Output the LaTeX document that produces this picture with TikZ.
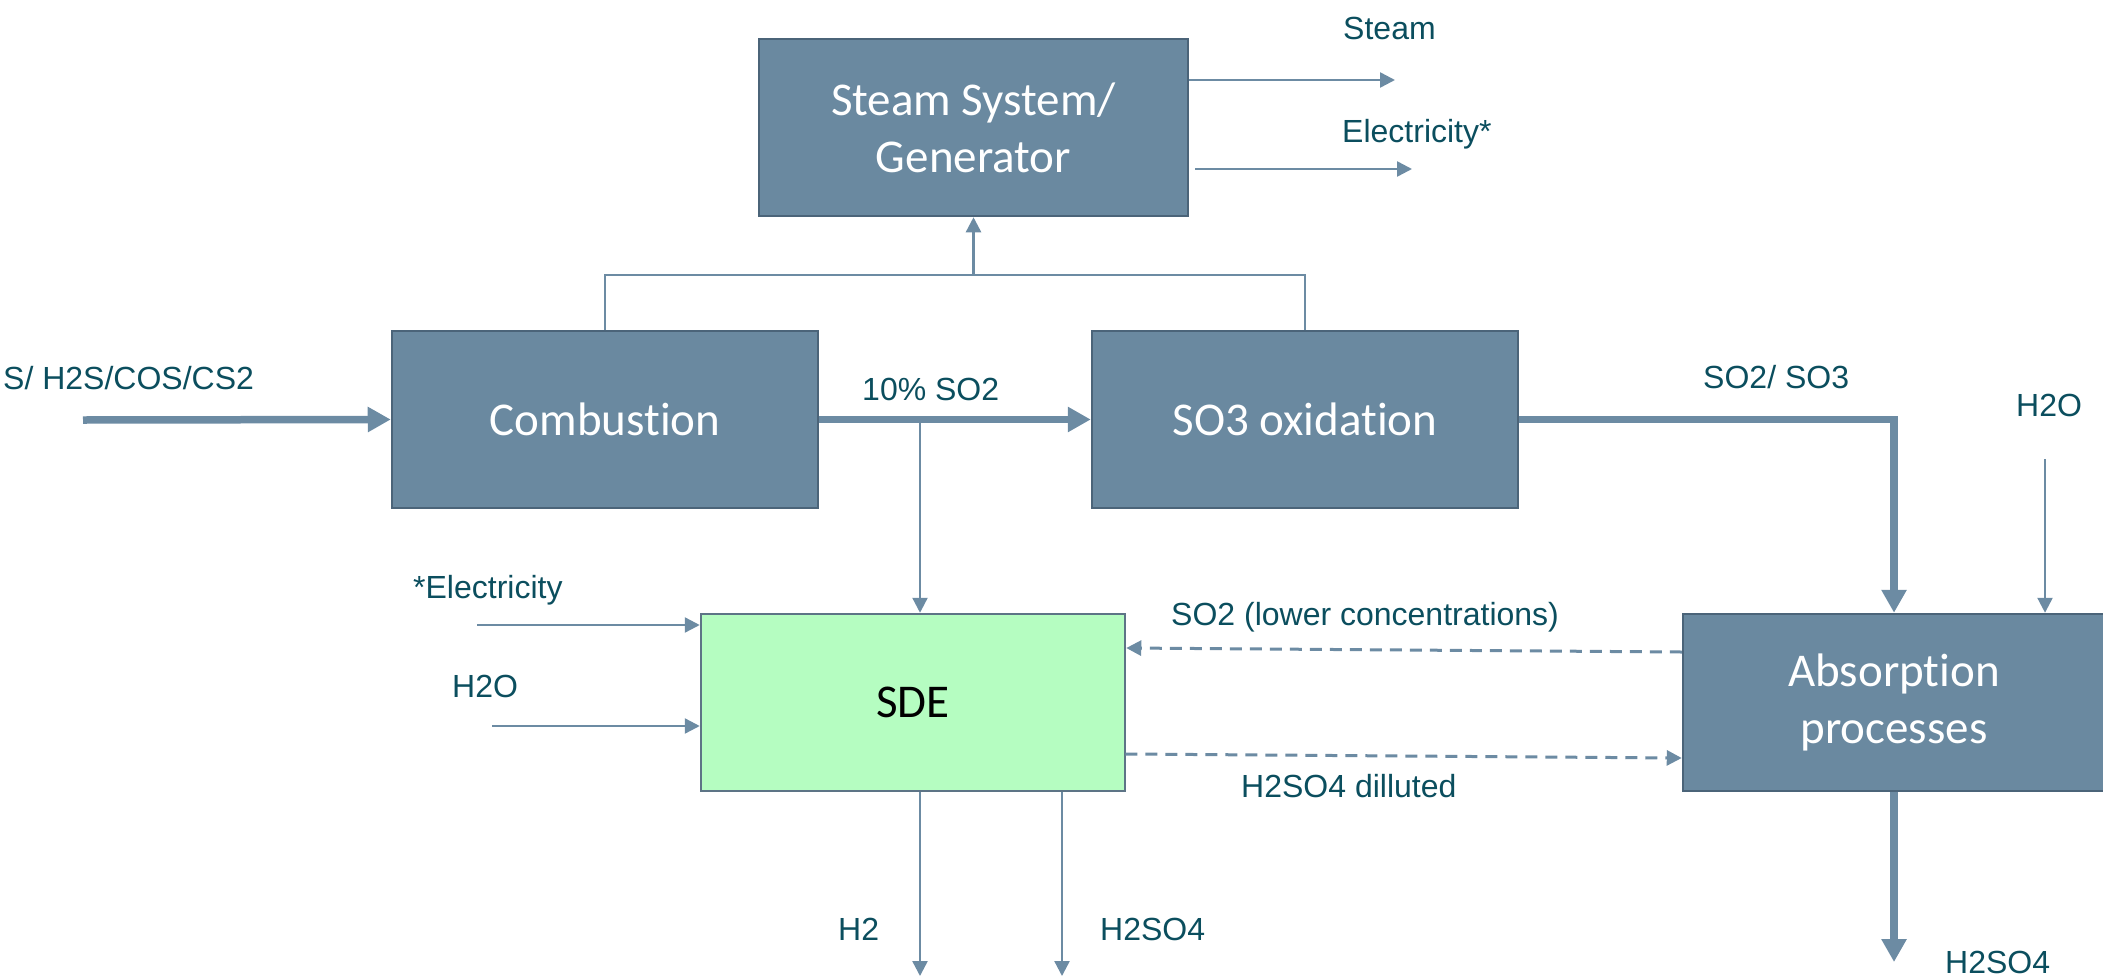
\documentclass[tikz,border=0pt]{standalone}
\usepackage{fontspec}
\setmainfont{Liberation Sans}
\newfontfamily\boxfont[Ligatures={NoCommon}]{Carlito}
\usetikzlibrary{arrows.meta}
\definecolor{boxfill}{HTML}{6A89A0}
\definecolor{boxline}{HTML}{4B6479}
\definecolor{flow}{HTML}{6C8BA3}
\definecolor{sdefill}{HTML}{B5FDC1}
\definecolor{labtext}{HTML}{0B4E5E}
\tikzset{
  procbox/.style={draw=boxline, line width=2.5pt, fill=boxfill, text=white,
    minimum height=177pt, align=center, inner sep=0pt,
    font=\boxfont\fontsize{47}{57}\selectfont},
  sdebox/.style={procbox, fill=sdefill, draw=boxline!90, text=black},
  thinflow/.style={draw=flow, line width=2.4pt, -{Triangle[length=15pt,width=15pt]}},
  thickflow/.style={draw=flow, line width=7.5pt, -{Triangle[length=23pt,width=24pt]}},
  plainflow/.style={draw=flow, line width=2.4pt},
  dashflow/.style={draw=flow, line width=3pt, dash pattern=on 12pt off 8pt,
    -{Triangle[length=15pt,width=15pt]}},
  lab/.style={text=labtext, inner sep=0pt, font=\fontsize{32}{37}\selectfont, anchor=base west}
}
\begin{document}
\begin{tikzpicture}[x=1pt,y=-1pt]
\useasboundingbox (0,0) rectangle (2103,977);

% boxes
\node[procbox, minimum width=429pt] (steam) at (973.5,127.5) {Steam System/\\Generator};
\node[procbox, minimum width=426pt] (comb) at (605,419.5) {Combustion};
\node[procbox, minimum width=426pt] (so3) at (1305,419.5) {SO3 oxidation};
\node[sdebox, minimum width=424pt] (sde) at (913,702.5) {SDE};
\node[procbox, minimum width=422pt] (abs) at (1894,702.5) {Absorption\\processes};

% coordinates
\coordinate (in1) at (83,420);
\coordinate (b1) at (920,420);
\coordinate (j) at (973.5,275);
\coordinate (steamEnd) at (1395,80);
\coordinate (elecStart) at (1195,169);
\coordinate (elecEnd) at (1412,169);
\coordinate (h2oA) at (2045,459);
\coordinate (elecS) at (477,625);
\coordinate (h2oS) at (492,726);
\coordinate (h2End) at (920,976);
\coordinate (h2so4End) at (1062,976);
\coordinate (absEnd) at (1894,962);

% connectors
\draw[thickflow] (in1) -- (comb.west);
\draw[thickflow] (comb.east) -- (so3.west);
\draw[thinflow] (b1) -- (b1 |- sde.north);
\draw[plainflow] (comb.north) |- (j) -| (so3.north);
\draw[thinflow] (j) -- (steam.south);
\draw[thinflow] (steam.east |- steamEnd) -- (steamEnd);
\draw[thinflow] (elecStart) -- (elecEnd);
\draw[thickflow] (so3.east) -| (abs.north);
\draw[thinflow] (h2oA) -- (h2oA |- abs.north);
\draw[thinflow] (elecS) -- (elecS -| sde.west);
\draw[thinflow] (h2oS) -- (h2oS -| sde.west);
\draw[dashflow] ([yshift=50.5pt]abs.west) -- ([yshift=54.5pt]sde.east);
\draw[dashflow] ([yshift=-51.5pt,xshift=-1pt]sde.east) -- ([yshift=-55.5pt]abs.west);
\draw[thinflow] (h2End |- sde.south) -- (h2End);
\draw[thinflow] (h2so4End |- sde.south) -- (h2so4End);
\draw[thickflow] (abs.south) -- (absEnd);

% labels
\node[lab] (lSteam) at (1343,39) {Steam};
\node[lab] (lElec) at (1342,142) {Electricity*};
\node[lab] (lFeed) at (3,389) {S/ H2S/COS/CS2};
\node[lab] (l10) at (862,400) {10\% SO2};
\node[lab] (lSOx) at (1703,388) {SO2/ SO3};
\node[lab] (lH2OA) at (2016,416) {H2O};
\node[lab] (lElecS) at (413,598) {*Electricity};
\node[lab] (lH2OS) at (452,697) {H2O};
\node[lab] (lSO2low) at (1171,625) {SO2 (lower concentrations)};
\node[lab] (lDil) at (1241,797) {H2SO4 dilluted};
\node[lab] (lH2) at (838,940) {H2};
\node[lab] (lH2SO4a) at (1100,940) {H2SO4};
\node[lab] (lH2SO4b) at (1945,973) {H2SO4};
\end{tikzpicture}
\end{document}
